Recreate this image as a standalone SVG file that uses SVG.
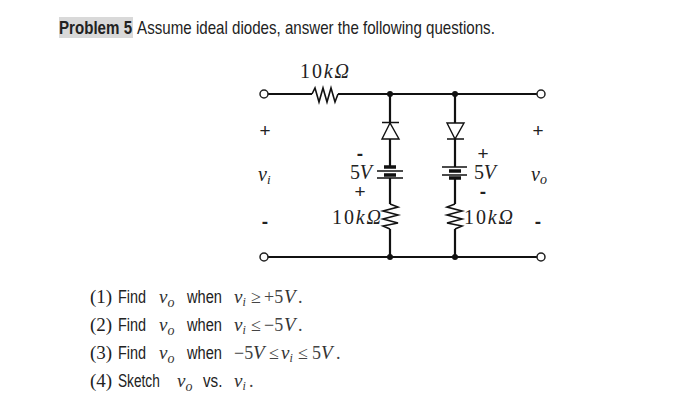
<svg xmlns="http://www.w3.org/2000/svg" width="700" height="416" viewBox="0 0 700 416">
<style>
.w{fill:none;stroke:#111;stroke-width:2.2}
.z{stroke-width:1.6}
.t{stroke-width:1.4}
.b{stroke-width:1.7}
.thick{stroke-width:3.4}
.term{fill:#fff;stroke:#222;stroke-width:1.5}
.dot{fill:#111}
.s{font-family:"Liberation Serif",serif;fill:#222;font-size:20px}
.i{font-style:italic}
.pm{font-family:"Liberation Sans",sans-serif;fill:#222;font-size:19px;text-anchor:middle}
.mn{font-weight:bold}
.a{font-family:"Liberation Sans",sans-serif;fill:#222;font-size:18px}
.q{font-size:19px}
.n{font-family:"Liberation Serif",serif;fill:#222;font-size:19px}
.m{font-family:"Liberation Serif",serif;fill:#444;font-size:18px}
.v{font-style:italic;fill:#333;font-size:19px}
.o{font-size:14px}
.u{font-size:12px}
</style>
<rect width="700" height="416" fill="#fff"/>
<g id="title">
<rect x="59" y="17" width="74" height="21" fill="#d9d9d9"/>
<text class="a" transform="translate(59 34) scale(.84 1)"><tspan font-weight="bold">Problem 5</tspan><tspan x="93">Assume ideal diodes, answer the following questions.</tspan></text>
</g>
<g id="connectors">
<path class="w" d="M268 94H312M338 94H537M268 257H537"/>
<path class="w" d="M390 94V122M390 139V167M390 178V204M390 229V257"/>
<path class="w" d="M455 94V123M455 139V167M455 178V204M455 229V257"/>
</g>
<g id="R1"><path class="w z" d="M312 94L315 88L319 102L323 88L327 102L331 88L335 102L338 94"/>
<text x="300" y="78" class="s" textLength="49">10<tspan class="i">kΩ</tspan></text></g>
<g id="D1"><path class="w t" d="M382 122.500H399M390 123L382 139H399Z"/></g>
<g id="D2"><path class="w t" d="M447 139H464M455 139L447 123H464Z"/></g>
<g id="B1">
<path class="w b" d="M377 171H403M377 178H403"/>
<path class="w thick" d="M384 167H396M384 175H396"/>
<text x="350" y="179" class="s" textLength="22">5<tspan class="i">V</tspan></text>
<text x="360" y="160" class="pm mn">-</text>
<text x="360" y="198" class="pm">+</text>
</g>
<g id="B2">
<path class="w b" d="M442 167H467M442 175H467"/>
<path class="w thick" d="M449 171H461M449 178H461"/>
<text x="474" y="179" class="s" textLength="22">5<tspan class="i">V</tspan></text>
<text x="483" y="160" class="pm">+</text>
<text x="483" y="198" class="pm mn">-</text>
</g>
<g id="R2"><path class="w z" d="M390 204L398 207L383 211L398 215L383 219L398 223L383 226L390 229"/>
<text x="332" y="224" class="s" textLength="49">10<tspan class="i">kΩ</tspan></text></g>
<g id="R3"><path class="w z" d="M455 204L447 207L462 211L447 215L462 219L447 223L462 226L455 229"/>
<text x="464" y="224" class="s" textLength="49">10<tspan class="i">kΩ</tspan></text></g>
<g id="J1"><circle class="dot" cx="390" cy="94" r="3"/></g>
<g id="J2"><circle class="dot" cx="455" cy="94" r="3"/></g>
<g id="J3"><circle class="dot" cx="390" cy="257" r="3"/></g>
<g id="J4"><circle class="dot" cx="455" cy="257" r="3"/></g>
<g id="T1"><circle class="term" cx="264" cy="94" r="4"/></g>
<g id="T2"><circle class="term" cx="264" cy="257" r="4"/></g>
<g id="T3"><circle class="term" cx="541" cy="94" r="4"/></g>
<g id="T4"><circle class="term" cx="541" cy="257" r="4"/></g>
<g id="vi"><text x="265" y="137" class="pm">+</text><text x="258" y="181" class="s i">v<tspan font-size="13" dy="3">i</tspan></text><text x="265" y="228" class="pm mn">-</text></g>
<g id="vo"><text x="538" y="137" class="pm">+</text><text x="531" y="181" class="s i">v<tspan font-size="14" dy="3">o</tspan></text><text x="538" y="228" class="pm mn">-</text></g>
<g id="questions">
<text x="90" y="303" class="n">(1)</text><text class="a q" transform="translate(118 303) scale(.76 1)">Find</text><text class="m" x="159" y="303"><tspan class="v">v</tspan><tspan class="v o" y="307">o</tspan></text><text class="a q" transform="translate(187 303) scale(.77 1)">when</text>
<text class="m"><tspan class="v" x="234" y="303">v</tspan><tspan class="v u" y="306">i</tspan><tspan x="251" y="303">≥</tspan><tspan x="264">+5</tspan><tspan class="v" x="284">V</tspan><tspan x="298">.</tspan></text>

<text x="90" y="331" class="n">(2)</text><text class="a q" transform="translate(118 331) scale(.76 1)">Find</text><text class="m" x="159" y="331"><tspan class="v">v</tspan><tspan class="v o" y="335">o</tspan></text><text class="a q" transform="translate(187 331) scale(.77 1)">when</text>
<text class="m"><tspan class="v" x="234" y="331">v</tspan><tspan class="v u" y="334">i</tspan><tspan x="251" y="331">≤</tspan><tspan x="264">−5</tspan><tspan class="v" x="284">V</tspan><tspan x="298">.</tspan></text>

<text x="90" y="359" class="n">(3)</text><text class="a q" transform="translate(118 359) scale(.76 1)">Find</text><text class="m" x="159" y="359"><tspan class="v">v</tspan><tspan class="v o" y="363">o</tspan></text><text class="a q" transform="translate(187 359) scale(.77 1)">when</text>
<text class="m"><tspan x="234" y="359">−5</tspan><tspan class="v" x="253">V</tspan><tspan x="269">≤</tspan><tspan class="v" x="281">v</tspan><tspan class="v u" y="362">i</tspan><tspan x="298" y="359">≤</tspan><tspan x="312">5</tspan><tspan class="v" x="321">V</tspan><tspan x="336">.</tspan></text>

<text x="90" y="387" class="n">(4)</text><text class="a q" transform="translate(118 387) scale(.72 1)">Sketch</text><text class="m" x="177" y="387"><tspan class="v">v</tspan><tspan class="v o" y="391">o</tspan></text><text class="a q" transform="translate(203 387) scale(.8 1)">vs.</text>
<text class="m"><tspan class="v" x="234" y="387">v</tspan><tspan class="v u" y="390">i</tspan><tspan x="249" y="387">.</tspan></text>
</g>
</svg>
